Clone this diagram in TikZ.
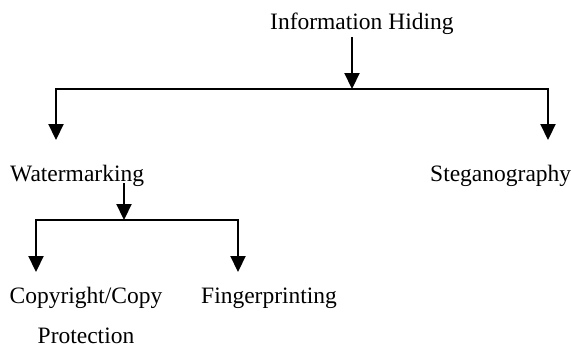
\documentclass[tikz,border=0pt]{standalone}
\usepackage{fontspec}
\setmainfont{Liberation Serif}
\usetikzlibrary{arrows.meta}
\begin{document}
\begin{tikzpicture}[x=1pt,y=-1pt,
  lbl/.style={inner sep=0pt,font=\fontsize{23.5}{40}\selectfont},
  tip/.style={Triangle[width=15pt,length=16pt]},
  arr/.style={line width=2.2pt,-{Triangle[width=15pt,length=16pt]}},
  arrboth/.style={line width=2.2pt,{Triangle[width=15pt,length=16pt]}-{Triangle[width=15pt,length=16pt]}}]
\useasboundingbox (0,0) rectangle (572,348);
% labels
\node[lbl,anchor=base west] (ih) at (270,29) {Information Hiding};
\node[lbl,anchor=base west] (wm) at (10,181) {Watermarking};
\node[lbl,anchor=base west] (st) at (430,181) {Steganography};
\node[lbl,anchor=base,align=center] (cp) at (86,343) {Copyright/Copy\\Protection};
\node[lbl,anchor=base west] (fp) at (201,303) {Fingerprinting};
% connector points
\coordinate (ihs) at (352,37);
\coordinate (j1) at (352,89);
\coordinate (t1) at (56,140);
\coordinate (t2) at (548,140);
\coordinate (wms) at (124,183);
\coordinate (j2) at (124,220);
\coordinate (t3) at (36,272);
\coordinate (t4) at (238,272);
% connectors
\draw[arr] (ihs) -- (j1);
\draw[arrboth] (t1) |- (j1) -| (t2);
\draw[arr] (wms) -- (j2);
\draw[arrboth] (t3) |- (j2) -| (t4);
\end{tikzpicture}
\end{document}
